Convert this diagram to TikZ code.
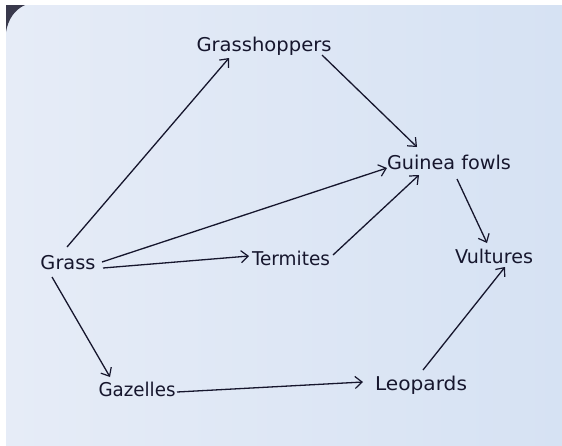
\documentclass[tikz,border=0pt]{standalone}
\usepackage{fontspec}
\setmainfont{DejaVu Sans}
\usetikzlibrary{arrows.meta,calc}
\definecolor{ink}{RGB}{22,22,45}
\definecolor{paperL}{RGB}{230,236,247}
\definecolor{paperR}{RGB}{214,226,243}
\newcommand\hw[2]{\resizebox{#1pt}{\height}{#2}}
\begin{document}
\begin{tikzpicture}[x=1pt,y=-1pt,
  lbl/.style={text=ink,inner sep=0pt,font=\fontsize{19}{19}\selectfont},
  link/.style={draw=ink,line width=1.3pt,-{Straight Barb[length=7pt,width=12pt,line width=1.2pt]}}]
\useasboundingbox (0,0) rectangle (562,445);
\fill[white] (0,0) rectangle (562,445);
\shade[left color=paperL,right color=paperR] (6,5) rectangle (562,445);
\fill[ink!85] (6,5) -- (25,5) .. controls (14,10) and (8,20) .. (6,32) -- cycle;
\node[lbl] (gh) at (264,46) {\hw{135}{Grasshoppers}};
\node[lbl] (gf) at (449,162) {\hw{124}{Guinea fowls}};
\node[lbl] (gr) at (68,263) {\hw{55}{Grass}};
\node[lbl] (te) at (291,258) {\hw{78}{Termites}};
\node[lbl] (vu) at (494,256) {\hw{78}{Vultures}};
\node[lbl] (ga) at (137,389) {\hw{77}{Gazelles}};
\node[lbl] (le) at (421,385) {\hw{92}{Leopards}};
\draw[link] ($(gr)+(-1,-16)$) -- ($(gh)+(-35,12)$);
\draw[link] ($(gr)+(34,-1)$) -- ($(gf)+(-62,6)$);
\draw[link] ($(gr)+(35,5)$) -- ($(te)+(-42,-2)$);
\draw[link] ($(gr)+(-16,14)$) -- ($(ga)+(-27,-12)$);
\draw[link] ($(gh)+(58,9)$) -- ($(gf)+(-32,-15)$);
\draw[link] ($(te)+(42,-3)$) -- ($(gf)+(-30,13)$);
\draw[link] ($(gf)+(8,17)$) -- ($(vu)+(-7,-13)$);
\draw[link] ($(ga)+(40,3)$) -- ($(le)+(-58,-3)$);
\draw[link] ($(le)+(2,-15)$) -- ($(vu)+(11,11)$);
\end{tikzpicture}
\end{document}
